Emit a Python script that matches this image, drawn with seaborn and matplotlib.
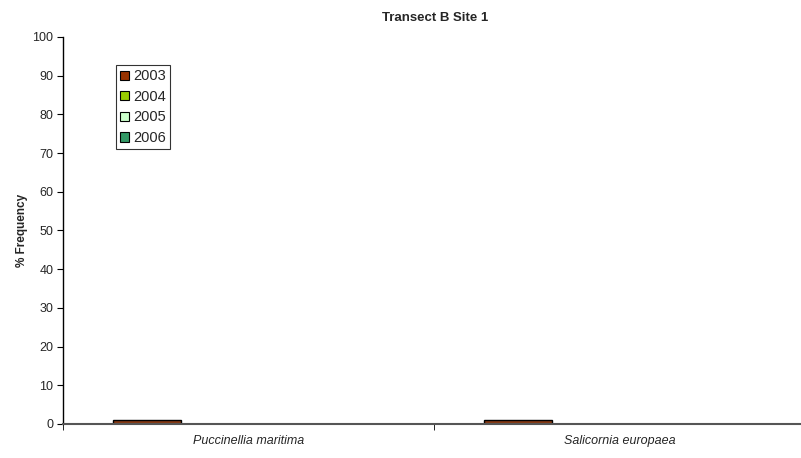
import numpy as np
import pandas as pd
import matplotlib
matplotlib.use('Agg')
import matplotlib.pyplot as plt
import seaborn as sns
from matplotlib.patches import Patch

species = ['Puccinellia maritima', 'Salicornia europaea']
years = ['2003', '2004', '2005', '2006']
freq_2003 = [1, 1]
freq_2004 = [0, 0]
freq_2005 = [0, 0]
freq_2006 = [0, 0]
colors = ['#993300', '#99CC00', '#CCFFCC', '#339966']

rows = []
for yr, vals in zip(years, [freq_2003, freq_2004, freq_2005, freq_2006]):
    for sp, v in zip(species, vals):
        rows.append({'species': sp, 'year': yr, 'freq': v})
df = pd.DataFrame(rows)

sns.set_style('white')
plt.rcParams['font.family'] = ['Liberation Sans', 'DejaVu Sans']

fig = plt.figure(figsize=(8.01, 4.58), dpi=100)
ax = fig.add_axes([63 / 801, 34 / 458, 742 / 801, 387 / 458])

sns.barplot(data=df, x='species', y='freq', hue='year', palette=colors,
            width=0.733, edgecolor='black', linewidth=1, ax=ax, legend=False)

ax.set_ylim(0, 100)
ax.set_xlim(-0.5, 1.5)
ax.set_yticks(range(0, 101, 10))
ax.tick_params(axis='y', labelsize=9, length=4, direction='out', left=True, color='black', pad=3)
ax.set_xticks([0, 1])
ax.set_xticklabels(species, fontsize=9, style='italic')
ax.set_xticks([-0.5, 0.5, 1.5], minor=True)
ax.tick_params(axis='x', which='major', length=0, pad=8)
ax.tick_params(axis='x', which='minor', length=4, direction='out', bottom=True, color='black')
ax.set_xlabel('')
ax.set_ylabel('% Frequency', fontsize=8.5, fontweight='bold', labelpad=0)
ax.yaxis.set_label_coords(-35 / 742, 0.5)

for s in ['top', 'right']:
    ax.spines[s].set_visible(False)
ax.spines['left'].set_color('black')
ax.spines['bottom'].set_color('#555555')
ax.spines['left'].set_linewidth(1)
ax.spines['bottom'].set_linewidth(1.5)

handles = [Patch(facecolor=c, edgecolor='black', linewidth=0.8, label=y) for c, y in zip(colors, years)]
leg = ax.legend(handles=handles, loc='upper left', bbox_to_anchor=(53 / 742, 359 / 387),
                fontsize=10.5, frameon=True, fancybox=False, edgecolor='black',
                handlelength=0.6, handleheight=0.6, handletextpad=0.25,
                labelspacing=0.45, borderpad=0.3, borderaxespad=0)
leg.get_frame().set_linewidth(0.8)

fig.suptitle('Transect B Site 1', x=435 / 801, y=1 - 12 / 458, fontsize=9.5, fontweight='bold')

fig.savefig('out.png', dpi=100)
